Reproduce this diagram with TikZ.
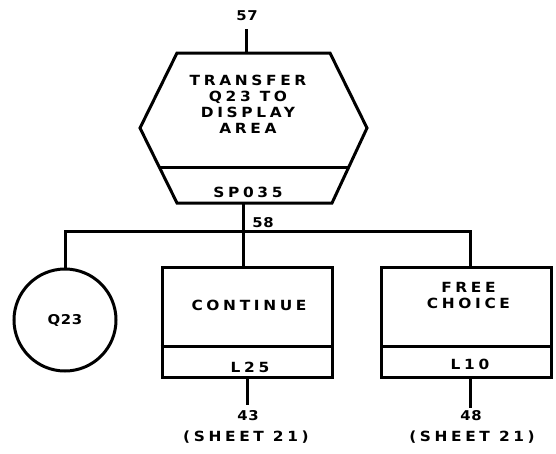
\documentclass[tikz,border=0pt]{standalone}
\usepackage{fontspec}
\setmainfont{DejaVu Sans}
\newfontfamily\wideface{DejaVu Sans}[FakeStretch=1.1]
\newcommand{\lettering}{\fontsize{14}{16}\selectfont\wideface\bfseries\addfontfeatures{LetterSpace=26}}
\newcommand{\numlettering}{\fontsize{13.5}{16}\selectfont\wideface\bfseries\addfontfeatures{LetterSpace=5}}
\begin{document}
\begin{tikzpicture}[x=1pt,y=-1pt,line width=3pt,line join=miter,
  lbl/.style={font=\lettering,inner sep=0pt,align=center},
  num/.style={font=\numlettering,inner sep=0pt,align=center},
  boxshape/.style={draw,rectangle,minimum width=170pt,minimum height=110pt,inner sep=0pt}]
\useasboundingbox (0,0) rectangle (556,453);
% hexagon (process block)
\coordinate (h1) at (177,53);
\coordinate (h2) at (330,53);
\coordinate (h3) at (367,128);
\coordinate (h4) at (332,203);
\coordinate (h5) at (177,203);
\coordinate (h6) at (140,128);
\draw (h1) -- (h2) -- (h3) -- (h4) -- (h5) -- (h6) -- cycle;
\coordinate (hdl) at (159,167);
\coordinate (hdr) at (349,167);
\draw (hdl) -- (hdr);
\node[lbl] (hextext) at (248,104) {TRANSFER\\Q23 TO\\DISPLAY\\AREA};
\node[lbl] (sp) at (248,192) {SP035};
% entry
\node[num] (n57) at (247,16) {57};
\coordinate (in57) at (246,29);
\coordinate (hexT) at (246,53);
\draw (in57) -- (hexT);
% circle
\node[draw,circle,minimum size=102pt,inner sep=0pt,num] (q23) at (65,320) {Q23};
% boxes
\node[boxshape] (cont) at (247,322) {};
\node[boxshape] (free) at (466.5,322) {};
\draw (cont.west |- 0,346) -- (cont.east |- 0,346);
\draw (free.west |- 0,346) -- (free.east |- 0,346);
\node[lbl] (conttext) at (249,305) {CONTINUE};
\node[lbl] (freetext) at (468.5,295) {FREE\\CHOICE};
\node[lbl] (l25) at (250,367) {L25};
\node[lbl] (l10) at (470,364) {L10};
% connectors
\coordinate (hexB) at (243,203);
\coordinate (bus) at (243,231);
\draw (hexB) -- (hexB |- cont.north);
\draw (q23.north) |- (bus) -- (470,231) -- (470,267);
\node[num] (n58) at (263,223) {58};
% exits
\coordinate (ex43) at (247,405);
\coordinate (ex48) at (470,408);
\draw (cont.south -| ex43) -- (ex43);
\draw (470,377) -- (ex48);
\node[num] (n43) at (248,416) {43};
\node[lbl] (s43) at (246,437) {(SHEET 21)};
\node[num] (n48) at (471,416) {48};
\node[lbl] (s48) at (472,437) {(SHEET 21)};
\end{tikzpicture}
\end{document}
